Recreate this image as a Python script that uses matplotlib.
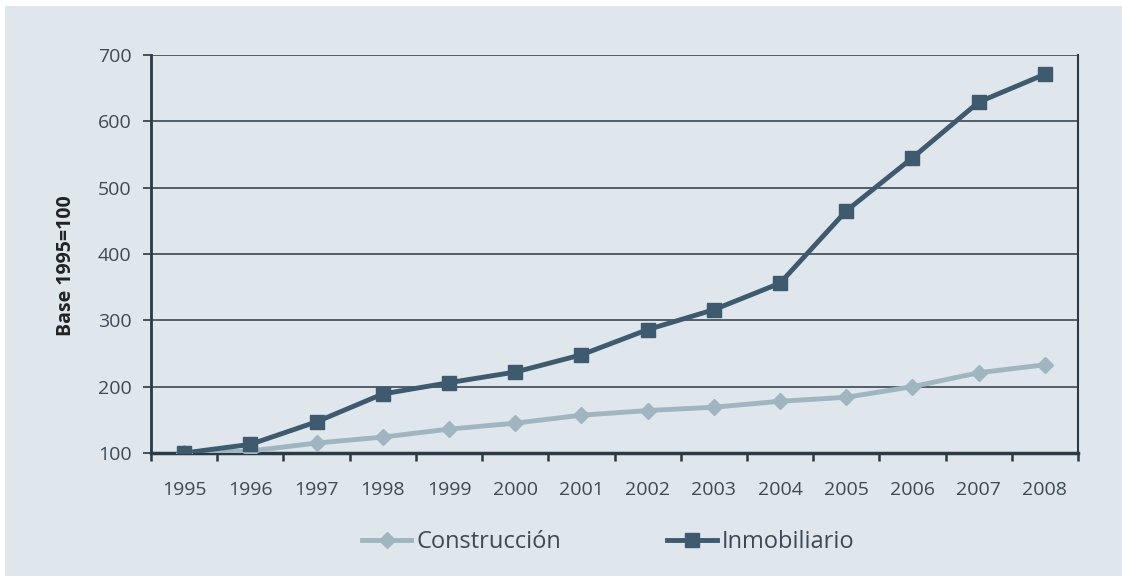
import matplotlib.pyplot as plt
from matplotlib.patches import Rectangle

years = ['1995', '1996', '1997', '1998', '1999', '2000', '2001',
         '2002', '2003', '2004', '2005', '2006', '2007', '2008']
construccion = [100, 103, 115, 124, 136, 145, 157, 164, 169, 178, 184, 200, 221, 233]
inmobiliario = [100, 113, 147, 189, 206, 222, 248, 286, 316, 356, 465, 545, 629, 671]
yticks = [100, 200, 300, 400, 500, 600, 700]

bg = '#dfe6ec'
dark = '#2b3a45'
txt = '#3d4a55'
c_light = '#9fb6c1'
c_dark = '#3d5a6e'

plt.rcParams['font.family'] = ['Open Sans', 'DejaVu Sans']

fig = plt.figure(figsize=(11.22, 5.76), dpi=100)
fig.patch.set_facecolor('white')
fig.add_artist(Rectangle((5 / 1122, 0), 1, 570 / 576, transform=fig.transFigure,
                         facecolor=bg, edgecolor='none', zorder=-10))

ax = fig.add_axes([151 / 1122, 1 - 453 / 576, 927 / 1122, 398 / 576])
ax.set_facecolor(bg)

x = list(range(len(years)))
ax.plot(x, construccion, color=c_light, lw=3.5, marker='D', ms=8.5, label='Construcción', zorder=3)
ax.plot(x, inmobiliario, color=c_dark, lw=3.5, marker='s', ms=10, label='Inmobiliario', zorder=4)

ax.set_xlim(-0.5, len(years) - 0.5)
ax.set_ylim(100, 700)
ax.set_yticks(yticks)
ax.set_yticklabels([str(v) for v in yticks], fontsize=14, color=txt)
for v in yticks[1:]:
    ax.axhline(v, color=dark, lw=1.1, zorder=1)

# ticks sit between the years, labels centred on each year
ax.set_xticks([i + 0.5 for i in range(-1, len(years))])
ax.set_xticklabels([])
ax.set_xticks(x, minor=True)
ax.set_xticklabels(years, minor=True, fontsize=14, color=txt)
ax.tick_params(axis='x', which='major', length=6, width=1.8, color=dark, direction='out')
ax.tick_params(axis='x', which='minor', length=0, pad=20)
ax.tick_params(axis='y', length=6, width=1.2, color=dark, pad=8)

ax.spines['top'].set_visible(False)
ax.spines['left'].set_color(dark)
ax.spines['left'].set_linewidth(2)
ax.spines['bottom'].set_color(dark)
ax.spines['bottom'].set_linewidth(2.5)
ax.spines['right'].set_color(dark)
ax.spines['right'].set_linewidth(1.5)

ax.set_ylabel('Base 1995=100', fontsize=14, fontweight='bold', color='#222')
ax.yaxis.set_label_coords(-0.081, 0.47)

fig.legend(loc='center', bbox_to_anchor=(608 / 1122, 1 - 542 / 576), ncol=2, frameon=False,
           fontsize=17, columnspacing=4.5, handlelength=2.1, handletextpad=0.2,
           labelcolor=txt)

fig.savefig('out.png', dpi=100, facecolor='white')
